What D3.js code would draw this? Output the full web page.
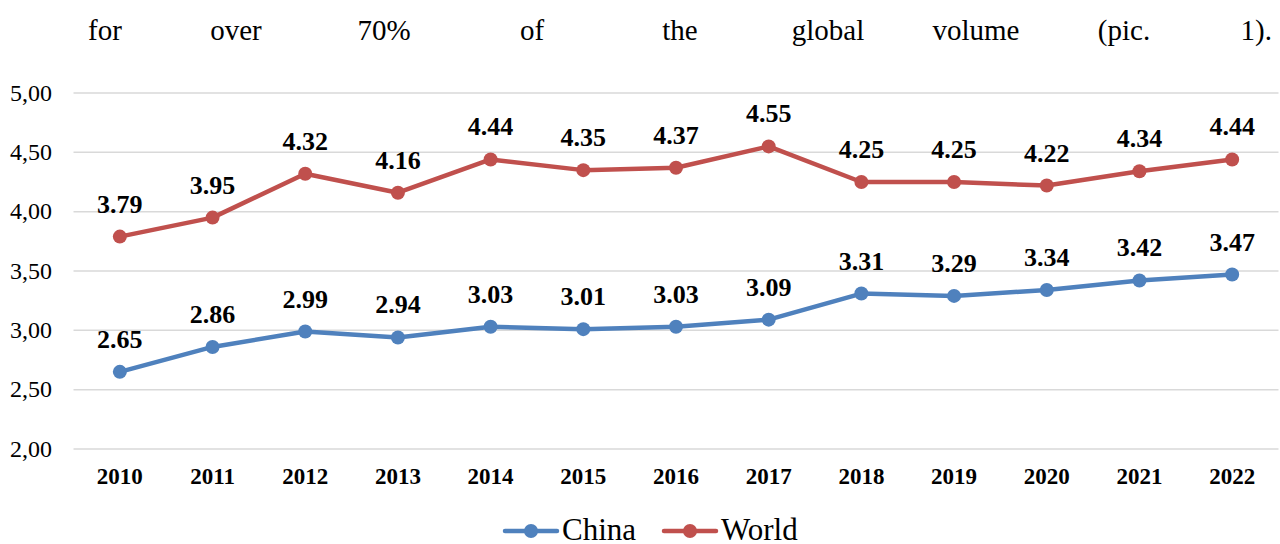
<!DOCTYPE html>
<html><head><meta charset="utf-8">
<script src="https://cdn.jsdelivr.net/npm/d3@7"></script>
</head><body style="margin:0;background:#fff">
<svg id="c" width="1280" height="544" style="display:block"></svg>
<script>
const years = ["2010","2011","2012","2013","2014","2015","2016","2017","2018","2019","2020","2021","2022"];
const china = [2.65,2.86,2.99,2.94,3.03,3.01,3.03,3.09,3.31,3.29,3.34,3.42,3.47];
const world = [3.79,3.95,4.32,4.16,4.44,4.35,4.37,4.55,4.25,4.25,4.22,4.34,4.44];
const yTicks = [2,2.5,3,3.5,4,4.5,5];
const seriesNames = ["China","World"];
const colors = ["#4F81BD","#C0504D"];
const topWords = ["for","over","70%","of","the","global","volume","(pic.","1)."];

const svg = d3.select("#c");
const serif = "Liberation Serif";

// top justified sentence
const wordX = d3.scalePoint().domain(topWords).range([88,1272]);
svg.append("g").selectAll("text").data(topWords).join("text")
  .attr("x", d => wordX(d))
  .attr("y", 40)
  .attr("text-anchor", (d,i) => i===0 ? "start" : (i===topWords.length-1 ? "end" : "middle"))
  .attr("font-family", serif).attr("font-size",29).attr("fill","#000")
  .text(d => d);

const x = d3.scaleBand().domain(years).range([73.5,1278.5]);
const y = d3.scaleLinear().domain([2,5]).range([449,93]);

// grid
svg.append("g").selectAll("line").data(yTicks).join("line")
  .attr("x1",73.5).attr("x2",1278.5)
  .attr("y1",d=>y(d)).attr("y2",d=>y(d))
  .attr("stroke","#d9d9d9").attr("stroke-width",1.5);

// y axis
const yAxis = d3.axisLeft(y).tickValues(yTicks).tickSize(0).tickPadding(0)
  .tickFormat(d => d3.format(".2f")(d).replace(".",","));
const gy = svg.append("g").attr("transform","translate(52,0)").call(yAxis);
gy.select(".domain").remove();
gy.attr("font-family",serif).attr("font-size",24);
gy.selectAll("text").attr("fill","#000")
  .attr("x",0).attr("y",0).attr("dy",null).attr("transform","translate(0,7) scale(1,0.92)");

// x axis
const xAxis = d3.axisBottom(x).tickSize(0).tickPadding(0);
const gx = svg.append("g").attr("transform","translate(0,484)").call(xAxis);
gx.select(".domain").remove();
gx.attr("font-family",serif).attr("font-size",23).attr("font-weight","bold");
gx.selectAll("text").attr("fill","#000").attr("y",0).attr("dy","0");

const cx = d => x(d) + x.bandwidth()/2;
const line = d3.line().x(d=>cx(d.year)).y(d=>y(d.v));
[china, world].forEach((vals, si) => {
  const data = years.map((yr,i)=>({year:yr, v:vals[i]}));
  svg.append("path").datum(data).attr("d",line).attr("fill","none")
    .attr("stroke",colors[si]).attr("stroke-width",4.5).attr("stroke-linejoin","round").attr("stroke-linecap","round");
  svg.append("g").selectAll("circle").data(data).join("circle")
    .attr("cx",d=>cx(d.year)).attr("cy",d=>y(d.v)).attr("r",7).attr("fill",colors[si]);
  svg.append("g").selectAll("text").data(data).join("text")
    .attr("x",d=>cx(d.year)).attr("y",d=>y(d.v)-24)
    .attr("text-anchor","middle").attr("font-family",serif).attr("font-size",26).attr("font-weight","bold").attr("fill","#000")
    .text(d=>d.v.toFixed(2));
});

// legend
const legX = [505, 664];
const lg = svg.append("g");
seriesNames.forEach((n,i)=>{
  const g = lg.append("g").attr("transform",`translate(${legX[i]},531)`);
  g.append("line").attr("x1",0).attr("x2",52).attr("y1",0).attr("y2",0).attr("stroke",colors[i]).attr("stroke-width",4.5).attr("stroke-linecap","round");
  g.append("circle").attr("cx",26).attr("cy",0).attr("r",7).attr("fill",colors[i]);
  g.append("text").attr("x",57).attr("y",9)
    .attr("font-family",serif).attr("font-size",31).attr("fill","#000").text(n);
});
</script>
</body></html>
